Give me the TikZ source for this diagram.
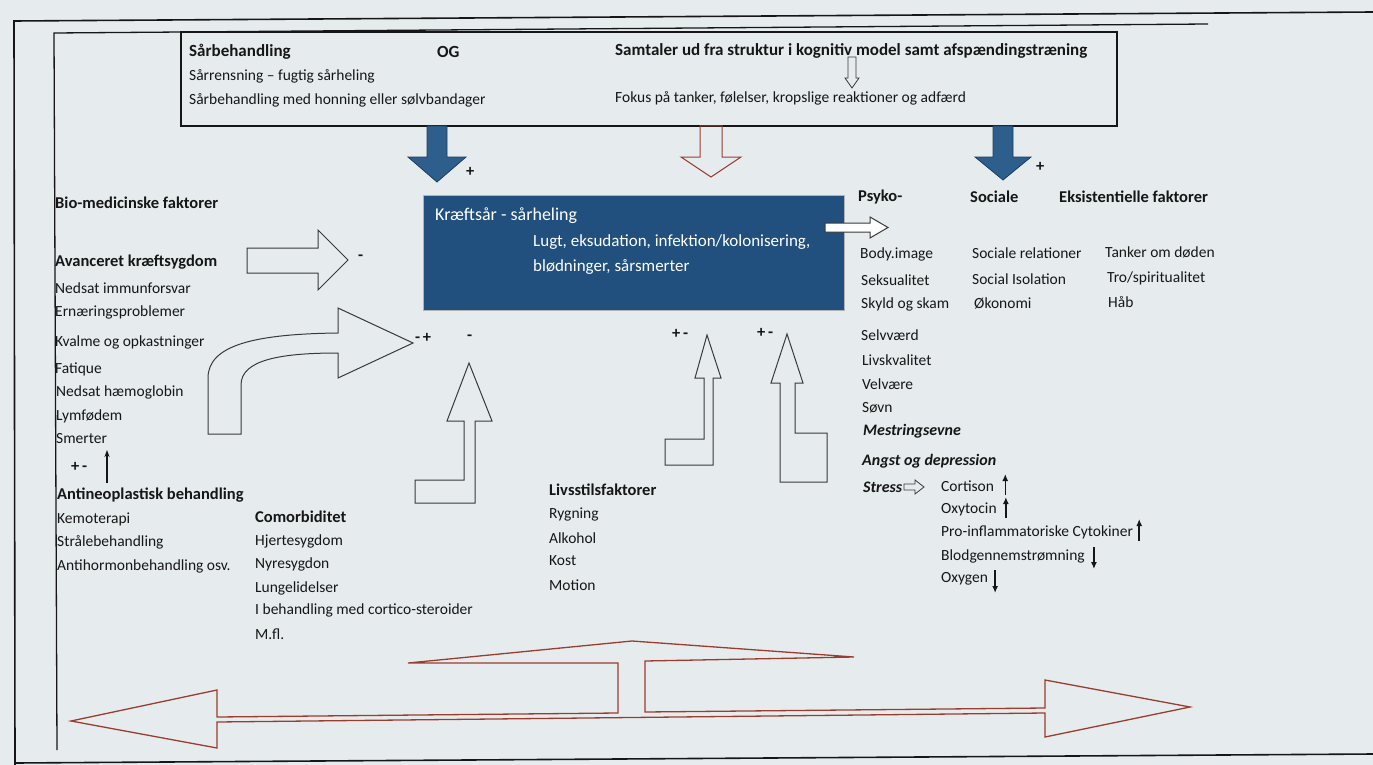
\documentclass[tikz,border=0pt]{standalone}
\usepackage{fontspec}
\setmainfont{Carlito}
\usetikzlibrary{arrows.meta}
\definecolor{bg}{HTML}{E6ECEE}
\definecolor{navy}{HTML}{21507E}
\definecolor{arrblue}{HTML}{2E5E8C}
\definecolor{arrline}{HTML}{1B3D61}
\definecolor{brick}{HTML}{9A3D2E}
\definecolor{ink}{HTML}{161616}
\begin{document}
\begin{tikzpicture}[x=1pt,y=-1pt,
  txt/.style={anchor=west,inner sep=0pt,font=\fontsize{15.5}{18}\selectfont,text=ink},
  hd/.style={txt,font=\fontsize{16.5}{19}\selectfont\bfseries},
  tophd/.style={txt,font=\fontsize{17}{20}\selectfont\bfseries},
  hdi/.style={txt,font=\fontsize{16}{19}\selectfont\bfseries\itshape},
  wtxt/.style={txt,text=white,font=\fontsize{17}{20}\selectfont},
  frameline/.style={draw=ink,line width=1.6pt},
  innerline/.style={draw=ink,line width=1.3pt},
  hollow/.style={draw=ink!85,line width=1pt,line join=miter},
  bluearrow/.style={draw=arrline,fill=arrblue,line width=0.8pt},
  redarrow/.style={draw=brick,line width=1pt},
  bigarrow/.style={draw=brick,line width=1.3pt,line join=miter},
  thinarrow/.style={draw=ink,line width=1.5pt,-{Latex[length=7pt,width=6pt]}}
]
\useasboundingbox (0,0) rectangle (1373,765);
\fill[bg] (0,0) rectangle (1373,765);

% frames
\draw[frameline] (1373,12) -- (14,21) -- (15,765);
\draw[frameline] (15,763) -- (1373,754);
\draw[innerline] (1208,24) -- (54,33) -- (57,750);

% top box
\node[draw=ink,line width=1.3pt,minimum width=936pt,minimum height=94pt,inner sep=0pt] (topbox) at (649,79) {};
\node[tophd] (sarb) at (189,52) {Sårbehandling};
\node[tophd] (og) at (437,52) {OG};
\node[tophd] (samt) at (615,51) {Samtaler ud fra struktur i kognitiv model samt afspændingstræning};
\node[txt] (rens) at (189,76) {Sårrensning – fugtig sårheling};
\node[txt] (honn) at (189,100) {Sårbehandling med honning eller sølvbandager};
\node[txt] (fokus) at (615,98) {Fokus på tanker, følelser, kropslige reaktioner og adfærd};
\draw[hollow,line width=0.8pt] (848,57) -- (856,57) -- (856,78) -- (859,78) -- (852,88) -- (845,78) -- (848,78) -- cycle;

% down arrows from top box
\draw[bluearrow] (427,126) -- (447,126) -- (447,157) -- (466,157) -- (437,182) -- (408,157) -- (427,157) -- cycle;
\draw[redarrow] (700,126) -- (722,126) -- (722,157) -- (741,157) -- (711,177) -- (681,157) -- (700,157) -- cycle;
\draw[bluearrow] (993,126) -- (1013,126) -- (1013,157) -- (1031,157) -- (1003,180) -- (975,157) -- (993,157) -- cycle;
\node[hd] (p1) at (466,172) {+};
\node[hd] (p2) at (1036,167) {+};

% central box
\node[draw=gray!60,line width=0.8pt,fill=navy,minimum width=421pt,minimum height=115pt,inner sep=0pt] (wound) at (633.5,252.5) {};
\node[wtxt,font=\fontsize{18}{21}\selectfont] (wt) at (435,216) {Kræftsår - sårheling};
\node[wtxt] (w1) at (533,242) {Lugt, eksudation, infektion/kolonisering,};
\node[wtxt] (w2) at (533,267) {blødninger, sårsmerter};
\draw[hollow,fill=white] (825,223) -- (870,223) -- (870,217) -- (888,227.5) -- (870,238) -- (870,232) -- (825,232) -- cycle;

% left column
\node[hd] (bio) at (55,203) {Bio-medicinske faktorer};
\node[hd] (avk) at (55,262) {Avanceret kræftsygdom};
\node[txt] (l1) at (55,288) {Nedsat immunforsvar};
\node[txt] (l2) at (55,312) {Ernæringsproblemer};
\node[txt] (l3) at (55,342) {Kvalme og opkastninger};
\node[txt] (l4) at (55,369) {Fatique};
\node[txt] (l5) at (56,392) {Nedsat hæmoglobin};
\node[txt] (l6) at (56,416) {Lymfødem};
\node[txt] (l7) at (56,439) {Smerter};
\node[hd] (pm0) at (71,467) {+\,-};
\draw[thinarrow,line width=1.1pt,-{Stealth[length=7pt,width=5pt]}] (107,483) -- (107,450);
\node[hd] (anti) at (57,495) {Antineoplastisk behandling};
\node[txt] (a1) at (57,519) {Kemoterapi};
\node[txt] (a2) at (57,542) {Strålebehandling};
\node[txt] (a3) at (57,566) {Antihormonbehandling osv.};

\node[hd] (com) at (255,517) {Comorbiditet};
\node[txt] (c1) at (255,541) {Hjertesygdom};
\node[txt] (c2) at (255,564) {Nyresygdon};
\node[txt] (c3) at (255,588) {Lungelidelser};
\node[txt] (c4) at (255,610) {I behandling med cortico-steroider};
\node[txt] (c5) at (255,634) {M.fl.};

\node[hd] (liv) at (549,490) {Livsstilsfaktorer};
\node[txt] (v1) at (549,514) {Rygning};
\node[txt] (v2) at (549,538) {Alkohol};
\node[txt] (v3) at (549,561) {Kost};
\node[txt] (v4) at (549,585) {Motion};

% arrows into the wound box
\draw[hollow] (247,248) -- (318,248) -- (318,230) -- (348,260) -- (318,290) -- (318,273) -- (247,273) -- cycle;
\node[hd] (m1) at (358,258) {-};
\draw[hollow] (208,434) -- (208,378) .. controls (208,345) and (255,334) .. (338,333) -- (338,308) -- (413,343) -- (338,378) -- (338,353) .. controls (280,353) and (241,360) .. (241,385) -- (241,434) -- cycle;
\node[hd] (pm1) at (415,338) {-\,+};
\node[hd] (m2) at (467,338) {-};
\draw[hollow] (469,363) -- (492,421) -- (475,421) -- (475,503) -- (415,503) -- (415,480) -- (464,480) -- (464,421) -- (447,421) -- cycle;
\draw[hollow] (707,335) -- (721,378) -- (713,378) -- (713,465) -- (665,465) -- (665,439) -- (704,439) -- (704,378) -- (695,378) -- cycle;
\node[hd] (pm2) at (672,334) {+\,-};
\draw[hollow] (787,334) -- (803,383) -- (795,383) -- (795,433) -- (827,433) -- (827,482) -- (780,482) -- (780,383) -- (771,383) -- cycle;
\node[hd] (pm3) at (757,333) {+\,-};

% right columns
\node[hd] (psy) at (858,197) {Psyko-};
\node[hd] (soc) at (970,197) {Sociale};
\node[hd] (eks) at (1059,197) {Eksistentielle faktorer};
\node[txt] (r1) at (860,254) {Body.image};
\node[txt] (r2) at (861,280) {Seksualitet};
\node[txt] (r3) at (861,304) {Skyld og skam};
\node[txt] (r4) at (861,335) {Selvværd};
\node[txt] (r5) at (862,360) {Livskvalitet};
\node[txt] (r6) at (862,384) {Velvære};
\node[txt] (r7) at (862,408) {Søvn};
\node[hdi] (r8) at (863,431) {Mestringsevne};
\node[hdi] (r9) at (862,461) {Angst og depression};
\node[hdi] (stress) at (863,487) {Stress};
\draw[hollow,line width=0.8pt] (904,484) -- (915,484) -- (915,480) -- (924,487) -- (915,494) -- (915,490) -- (904,490) -- cycle;
\node[txt] (s1) at (972,253) {Sociale relationer};
\node[txt] (s2) at (972,279) {Social Isolation};
\node[txt] (s3) at (974,303) {Økonomi};
\node[txt] (e1) at (1105,252) {Tanker om døden};
\node[txt] (e2) at (1107,278) {Tro/spiritualitet};
\node[txt] (e3) at (1108,302) {Håb};

\node[txt] (h1) at (941,486) {Cortison};
\node[txt] (h2) at (941,509) {Oxytocin};
\node[txt] (h3) at (941,532) {Pro-inflammatoriske Cytokiner};
\node[txt] (h4) at (941,556) {Blodgennemstrømning};
\node[txt] (h5) at (941,579) {Oxygen};
\draw[thinarrow] ([xshift=11pt,yshift=-9pt]h1.east) -- ([xshift=11pt,yshift=12pt]h1.east);
\draw[thinarrow] ([xshift=9pt,yshift=-9pt]h2.east) -- ([xshift=9pt,yshift=12pt]h2.east);
\draw[thinarrow] ([xshift=6pt,yshift=-9pt]h3.east) -- ([xshift=6pt,yshift=13pt]h3.east);
\draw[thinarrow] ([xshift=9pt,yshift=9pt]h4.east) -- ([xshift=9pt,yshift=-13pt]h4.east);
\draw[thinarrow] ([xshift=7pt,yshift=9pt]h5.east) -- ([xshift=7pt,yshift=-14pt]h5.east);

% bottom double arrow with raised triangle
\draw[bigarrow] (408,663) -- (632,641) -- (854,657) -- (645,661) -- (645,712) -- (1045,708) -- (1045,680) -- (1190,707) -- (1045,737) -- (1045,713) -- (217,722) -- (217,748) -- (71,721) -- (217,690) -- (217,717) -- (618,713) -- (618,663) -- cycle;
\end{tikzpicture}
\end{document}
